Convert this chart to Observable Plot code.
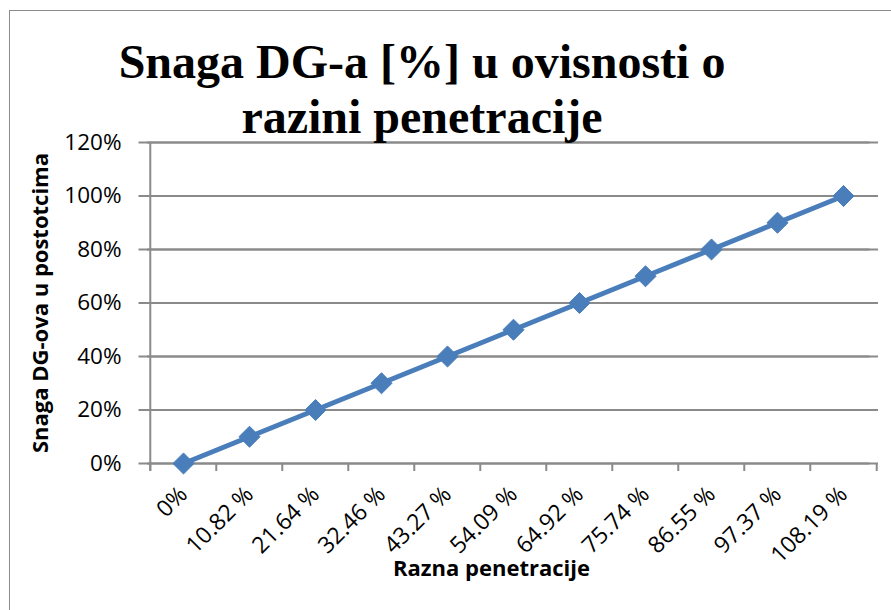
<!DOCTYPE html>
<html>
<head>
<meta charset="utf-8">
<script src="https://cdn.jsdelivr.net/npm/d3@7"></script>
<script src="https://cdn.jsdelivr.net/npm/@observablehq/plot@0.6"></script>
<style>
  html, body { margin: 0; padding: 0; background: #fff; width: 891px; height: 610px; overflow: hidden; }
  #frame { position: absolute; left: 9px; top: 10px; width: 900px; height: 700px; border: 1.5px solid #8c8c8c; box-sizing: border-box; }
  #title { position: absolute; left: 0; top: 34px; width: 844px; text-align: center; font-family: "Liberation Serif", "Times New Roman", serif; font-weight: bold; font-size: 48px; line-height: 55px; color: #000; }
  #chart { position: absolute; left: 0; top: 0; }
  #xtitle { position: absolute; left: 393px; top: 552px; font-family: "Open Sans", sans-serif; font-weight: bold; font-size: 22px; color: #000; }
</style>
</head>
<body>
<div id="frame"></div>
<div id="chart"></div>
<div id="title">Snaga DG-a [%] u ovisnosti o<br>razini penetracije</div>
<div id="xtitle">Razna penetracije</div>
<script>
const categories = ["0%", "10.82 %", "21.64 %", "32.46 %", "43.27 %", "54.09 %", "64.92 %", "75.74 %", "86.55 %", "97.37 %", "108.19 %"];
const values = [0, 0.10, 0.20, 0.30, 0.40, 0.50, 0.60, 0.70, 0.80, 0.90, 1.00];
const yTicks = [0, 0.2, 0.4, 0.6, 0.8, 1.0, 1.2];
const yTitle = "Snaga DG-ova u postotcima";

const data = categories.map((c, i) => ({cat: c, val: values[i]}));

const W = 891, H = 610;
const mL = 147, mR = 13, mT = 142, mB = 147;
const bw = (W - mL - mR) / categories.length;
const grey = "#8a8a8a";
const blue = "#4A7EBB";

const plot = Plot.plot({
  width: W,
  height: H,
  marginLeft: mL,
  marginRight: mR,
  marginTop: mT,
  marginBottom: mB,
  style: {fontFamily: "Open Sans, sans-serif", fontSize: "22px", color: "#000", background: "transparent", overflow: "visible"},
  x: {type: "band", domain: categories, padding: 0, axis: null},
  y: {domain: [0, 1.2], axis: null},
  marks: [
    Plot.ruleY(yTicks, {stroke: grey, strokeWidth: 2}),
    Plot.axisY(yTicks, {tickSize: 0, tickPadding: 26, tickFormat: d3.format(".0%"), fontSize: 22.5, label: null, fill: "#000"}),
    Plot.ruleY(yTicks, {dx: -8.5, stroke: grey, strokeWidth: 2}),
    Plot.ruleX(categories, {x: d => d, dx: -bw / 2, y1: 0, y2: 0, insetBottom: -8, stroke: grey, strokeWidth: 2}),
    Plot.ruleX(categories.slice(-1), {x: d => d, dx: bw / 2, y1: 0, y2: 0, insetBottom: -8, stroke: grey, strokeWidth: 2}),
    Plot.ruleX(categories.slice(0, 1), {x: d => d, dx: -bw / 2, stroke: grey, strokeWidth: 2, insetBottom: -8}),
    Plot.axisX({tickSize: 0, tickRotate: -45, tickPadding: 27, fontSize: 23, textAnchor: "end", label: null, fill: "#000", dx: 0}),
    Plot.text([yTitle], {frameAnchor: "left", textAnchor: "middle", rotate: -90, dx: -107, dy: 0, fontWeight: "bold", fontSize: 22, fill: "#000", style: {letterSpacing: "0.5px"}}),
    Plot.line(data, {x: "cat", y: "val", stroke: blue, strokeWidth: 5}),
    Plot.dot(data, {x: "cat", y: "val", symbol: "diamond2", r: 9.5, fill: blue, stroke: blue, strokeWidth: 1})
  ]
});
document.getElementById("chart").appendChild(plot);
</script>
</body>
</html>
